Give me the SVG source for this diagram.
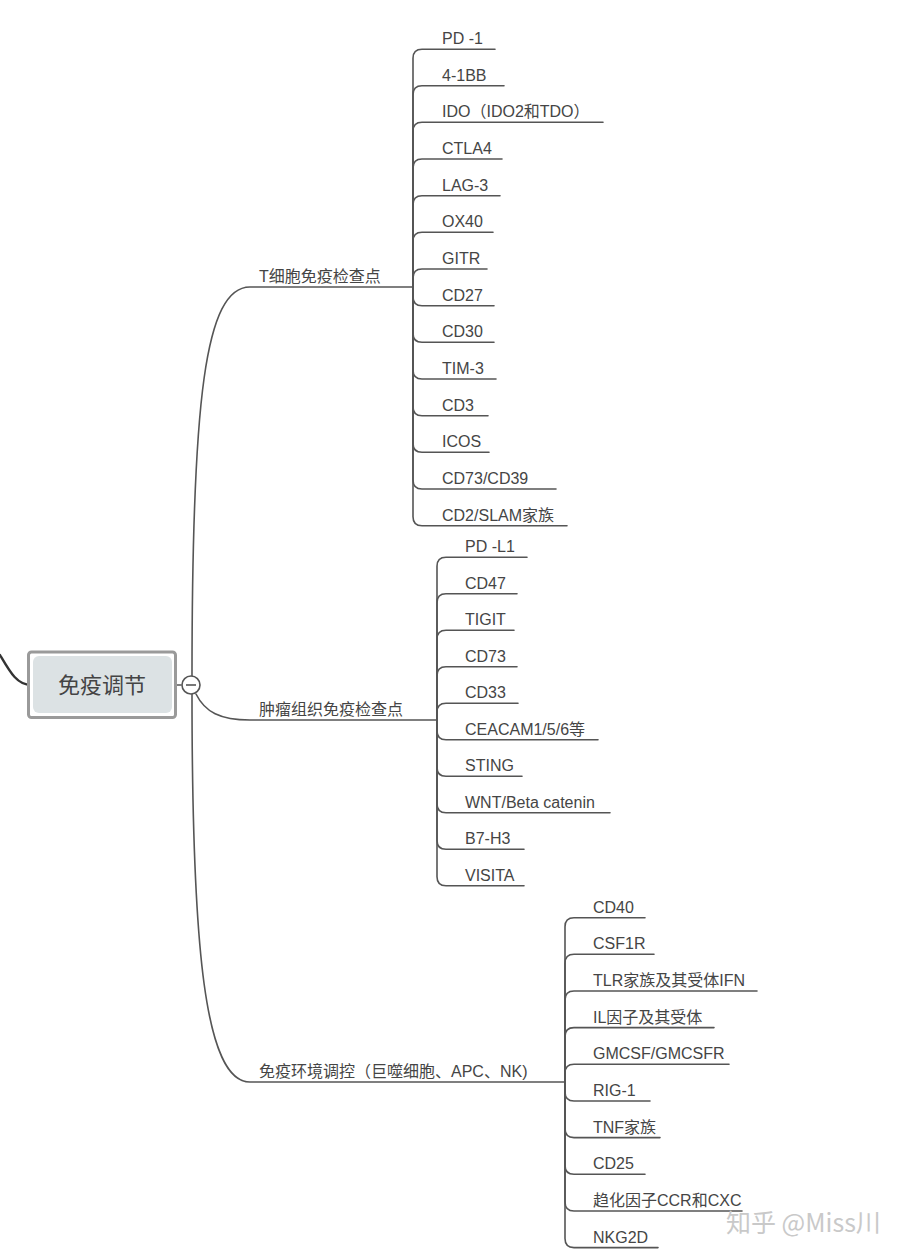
<svg xmlns="http://www.w3.org/2000/svg" width="916" height="1250" viewBox="0 0 916 1250">
<style>
.ln{fill:none;stroke:#555;stroke-width:1.6;stroke-linecap:round}
.t{font-family:"Liberation Sans","Noto Sans CJK SC",sans-serif;font-size:16px;fill:#454545}
.ct{font-family:"Liberation Sans","Noto Sans CJK SC",sans-serif;font-size:22px;fill:#444}
.wm{font-family:"Noto Sans CJK SC","Liberation Sans",sans-serif;font-size:25px;fill:#c9c9c9}
</style>
<rect width="916" height="1250" fill="#fff"/>
<g id="connectors">
<path class="ln" d="M0,655 C10,672 17,685 31,685" style="stroke:#333;stroke-width:2.4"/>
<path class="ln" d="M172,685 H181"/>
<path class="ln" d="M192,676 C192,400 205,287 250,287 H413"/>
<path class="ln" d="M196,694 C205,712 220,720 250,720 H437"/>
<path class="ln" d="M192,694 C192,950 205,1082 250,1082 H565"/>
<path class="ln" d="M413,287 V58.3 Q413,49.3 422,49.3 H495"/>
<path class="ln" d="M413,287 V94.7 Q413,85.7 422,85.7 H504"/>
<path class="ln" d="M413,287 V131.3 Q413,122.3 422,122.3 H603"/>
<path class="ln" d="M413,287 V168 Q413,159 422,159 H502"/>
<path class="ln" d="M413,287 V204.7 Q413,195.7 422,195.7 H500"/>
<path class="ln" d="M413,287 V241.3 Q413,232.3 422,232.3 H493"/>
<path class="ln" d="M413,287 V278 Q413,269 422,269 H487"/>
<path class="ln" d="M413,287 V296.7 Q413,305.7 422,305.7 H494"/>
<path class="ln" d="M413,287 V333.3 Q413,342.3 422,342.3 H494"/>
<path class="ln" d="M413,287 V370 Q413,379 422,379 H496"/>
<path class="ln" d="M413,287 V406.7 Q413,415.7 422,415.7 H488"/>
<path class="ln" d="M413,287 V443.3 Q413,452.3 422,452.3 H489"/>
<path class="ln" d="M413,287 V480 Q413,489 422,489 H556"/>
<path class="ln" d="M413,287 V516.7 Q413,525.7 422,525.7 H567"/>
<path class="ln" d="M437,720 V566.3 Q437,557.3 446,557.3 H527"/>
<path class="ln" d="M437,720 V602.8 Q437,593.8 446,593.8 H517"/>
<path class="ln" d="M437,720 V639.3 Q437,630.3 446,630.3 H514"/>
<path class="ln" d="M437,720 V675.8 Q437,666.8 446,666.8 H517"/>
<path class="ln" d="M437,720 V712.3 Q437,703.3 446,703.3 H518"/>
<path class="ln" d="M437,720 V730.8 Q437,739.8 446,739.8 H598"/>
<path class="ln" d="M437,720 V767.3 Q437,776.3 446,776.3 H522"/>
<path class="ln" d="M437,720 V803.8 Q437,812.8 446,812.8 H610"/>
<path class="ln" d="M437,720 V840.3 Q437,849.3 446,849.3 H524"/>
<path class="ln" d="M437,720 V876.8 Q437,885.8 446,885.8 H524"/>
<path class="ln" d="M565,1082 V926.7 Q565,917.7 574,917.7 H645"/>
<path class="ln" d="M565,1082 V963.3 Q565,954.3 574,954.3 H654"/>
<path class="ln" d="M565,1082 V1000 Q565,991 574,991 H757"/>
<path class="ln" d="M565,1082 V1036.6 Q565,1027.6 574,1027.6 H714"/>
<path class="ln" d="M565,1082 V1073.3 Q565,1064.3 574,1064.3 H729"/>
<path class="ln" d="M565,1082 V1092 Q565,1101 574,1101 H650"/>
<path class="ln" d="M565,1082 V1128.6 Q565,1137.6 574,1137.6 H660"/>
<path class="ln" d="M565,1082 V1165.3 Q565,1174.3 574,1174.3 H645"/>
<path class="ln" d="M565,1082 V1202 Q565,1211 574,1211 H742"/>
<path class="ln" d="M565,1082 V1238.6 Q565,1247.6 574,1247.6 H658"/>
</g>
<g id="root">
<rect x="28.5" y="652" width="147" height="65.5" rx="3" fill="#fff" stroke="#9a9a9a" stroke-width="3"/>
<rect x="33" y="656" width="139" height="57" rx="6" fill="#dce2e4"/>
<text class="ct" x="102" y="693" text-anchor="middle">免疫调节</text>
<circle cx="191" cy="685" r="9" fill="#fff" stroke="#555" stroke-width="1.6"/>
<path d="M186,685 H196" stroke="#555" stroke-width="1.6"/>
</g>
<g id="branch-t">
<text class="t" x="259" y="282">T细胞免疫检查点</text>
</g>
<g id="branch-tumor">
<text class="t" x="259" y="715">肿瘤组织免疫检查点</text>
</g>
<g id="branch-env">
<text class="t" x="259" y="1077">免疫环境调控（巨噬细胞、APC、NK)</text>
</g>
<g id="leaves-t">
<text class="t" x="442" y="44">PD -1</text>
<text class="t" x="442" y="80.5">4-1BB</text>
<text class="t" x="442" y="117">IDO（IDO2和TDO）</text>
<text class="t" x="442" y="153.5">CTLA4</text>
<text class="t" x="442" y="190.5">LAG-3</text>
<text class="t" x="442" y="227">OX40</text>
<text class="t" x="442" y="263.5">GITR</text>
<text class="t" x="442" y="300.5">CD27</text>
<text class="t" x="442" y="337">CD30</text>
<text class="t" x="442" y="373.5">TIM-3</text>
<text class="t" x="442" y="410.5">CD3</text>
<text class="t" x="442" y="447">ICOS</text>
<text class="t" x="442" y="483.5">CD73/CD39</text>
<text class="t" x="442" y="520.5">CD2/SLAM家族</text>
</g>
<g id="leaves-tumor">
<text class="t" x="465" y="552">PD -L1</text>
<text class="t" x="465" y="588.5">CD47</text>
<text class="t" x="465" y="625">TIGIT</text>
<text class="t" x="465" y="661.5">CD73</text>
<text class="t" x="465" y="698">CD33</text>
<text class="t" x="465" y="734.5">CEACAM1/5/6等</text>
<text class="t" x="465" y="771">STING</text>
<text class="t" x="465" y="807.5">WNT/Beta catenin</text>
<text class="t" x="465" y="844">B7-H3</text>
<text class="t" x="465" y="880.5">VISITA</text>
</g>
<g id="leaves-env">
<text class="t" x="593" y="912.5">CD40</text>
<text class="t" x="593" y="949">CSF1R</text>
<text class="t" x="593" y="985.5">TLR家族及其受体IFN</text>
<text class="t" x="593" y="1022.5">IL因子及其受体</text>
<text class="t" x="593" y="1059">GMCSF/GMCSFR</text>
<text class="t" x="593" y="1095.5">RIG-1</text>
<text class="t" x="593" y="1132.5">TNF家族</text>
<text class="t" x="593" y="1169">CD25</text>
<text class="t" x="593" y="1205.5">趋化因子CCR和CXC</text>
<text class="t" x="593" y="1242.5">NKG2D</text>
</g>
<g id="watermark">
<text class="wm" x="726" y="1232">知乎 @Miss川</text>
</g>
</svg>
